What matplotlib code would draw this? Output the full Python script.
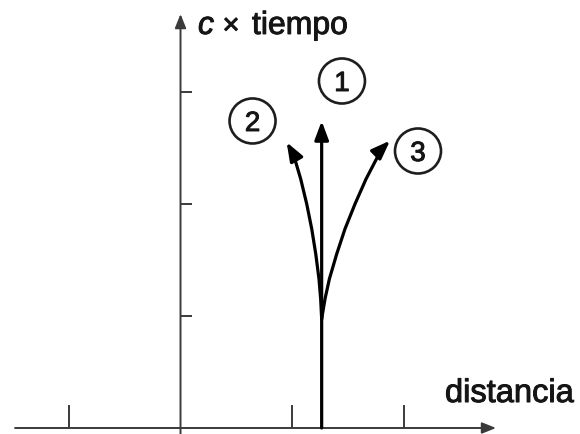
import matplotlib
matplotlib.use("Agg")
import matplotlib.pyplot as plt
import matplotlib.patheffects as pe
from matplotlib.patches import Ellipse

# ---- data (in diagram units: 1 unit = one tick spacing) ----
x_ticks = [-1, 1, 2]
y_ticks = [1, 2, 3]
x_axis_range = [-1.484, 2.83]
y_axis_top = 3.696

# world line 1 (straight, vertical)
wl1_x = [1.266, 1.266]
wl1_y = [0.0, 2.74]

# world line 2 (curving left)
wl2_x = [1.266, 1.257, 1.242, 1.213, 1.177, 1.132, 1.078, 1.012, 0.952]
wl2_y = [0.973, 1.152, 1.330, 1.554, 1.777, 2.000, 2.223, 2.446, 2.551]

# world line 3 (curving right)
wl3_x = [1.266, 1.296, 1.335, 1.401, 1.475, 1.565, 1.664, 1.804, 1.879]
wl3_y = [0.973, 1.152, 1.330, 1.554, 1.777, 2.000, 2.223, 2.491, 2.565]

labels = ["1", "2", "3"]
label_x = [1.448, 0.646, 2.130]
label_y = [3.098, 2.741, 2.473]

# ---- figure ----
fig = plt.figure(figsize=(5.8, 4.35), dpi=100)
ax = fig.add_axes([0, 0, 1, 1])
ax.set_xlim(-1.619, 3.583)
ax.set_ylim(-0.0536, 3.830)
ax.axis("off")

axis_col = "#3a3a3a"
axis_lw = 1.4
font = "Liberation Sans"
txt_col = "#151515"
bold_fx = [pe.withStroke(linewidth=0.7, foreground=txt_col)]

# horizontal axis with arrow
ax.annotate("", xy=(x_axis_range[1], 0), xytext=(x_axis_range[0], 0),
            arrowprops=dict(arrowstyle="-|>,head_length=0.7,head_width=0.28",
                            color=axis_col, lw=axis_lw, mutation_scale=12,
                            shrinkA=0, shrinkB=0))
# vertical axis with arrow
ax.annotate("", xy=(0, y_axis_top), xytext=(0, -0.06),
            arrowprops=dict(arrowstyle="-|>,head_length=0.7,head_width=0.28",
                            color=axis_col, lw=axis_lw, mutation_scale=12,
                            shrinkA=0, shrinkB=0))

# ticks
for xt in x_ticks:
    ax.plot([xt, xt], [0, 0.205], color=axis_col, lw=axis_lw, solid_capstyle="butt")
for yt in y_ticks:
    ax.plot([0, 0.10], [yt, yt], color=axis_col, lw=axis_lw, solid_capstyle="butt")

# world lines
wl_lw = 2.3
arrow_kw = dict(arrowstyle="-|>,head_length=0.8,head_width=0.3",
                color="black", lw=wl_lw, mutation_scale=14,
                shrinkA=0, shrinkB=0)
ax.annotate("", xy=(wl1_x[1], wl1_y[1]), xytext=(wl1_x[0], wl1_y[0]),
            arrowprops=arrow_kw)
for xs, ys in [(wl2_x, wl2_y), (wl3_x, wl3_y)]:
    ax.plot(xs[:-1], ys[:-1], color="black", lw=wl_lw,
            solid_joinstyle="round", solid_capstyle="round")
    ax.annotate("", xy=(xs[-1], ys[-1]), xytext=(xs[-2], ys[-2]),
                arrowprops=arrow_kw)

# circled labels
for lab, lx, ly in zip(labels, label_x, label_y):
    ax.add_patch(Ellipse((lx, ly), width=46 / 111.5, height=45 / 112,
                         facecolor="white", edgecolor="#1e1e1e", lw=1.9))
    ax.text(lx, ly, lab, ha="center", va="center_baseline", fontsize=20,
            family=font, color=txt_col, path_effects=bold_fx)

# axis labels
ax.text(0.157, 3.518, "c", style="italic", fontsize=23, family=font,
        color=txt_col, ha="left", va="baseline", path_effects=bold_fx)
ax.text(0.453, 3.518, "×", fontsize=21, family=font,
        color=txt_col, ha="center", va="baseline", path_effects=bold_fx)
ax.text(0.641, 3.518, "tiempo", fontsize=23, family=font,
        color=txt_col, ha="left", va="baseline", path_effects=bold_fx)
ax.text(2.372, 0.232, "distancia", fontsize=23.5, family=font,
        color=txt_col, ha="left", va="baseline", path_effects=bold_fx)

fig.savefig("out.png", dpi=100)
